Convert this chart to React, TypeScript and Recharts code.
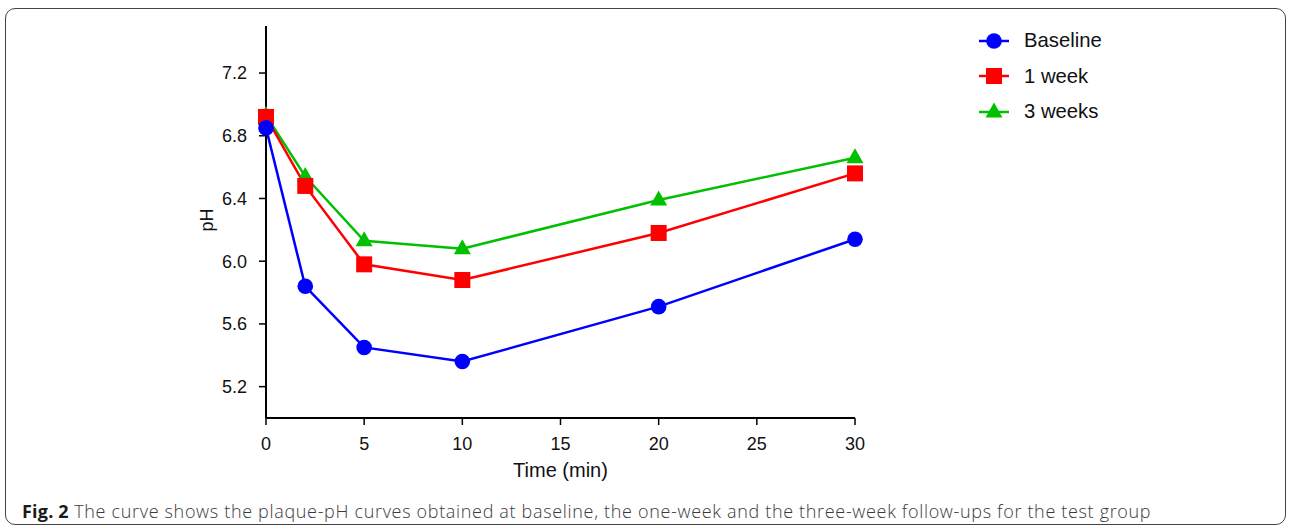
import React from 'react';
import { LineChart, Line, XAxis, YAxis, Legend, Label } from 'recharts';

const times = [0, 2, 5, 10, 20, 30];
const baseline = [6.85, 5.84, 5.45, 5.36, 5.71, 6.14];
const week1 = [6.92, 6.48, 5.98, 5.88, 6.18, 6.56];
const week3 = [6.93, 6.54, 6.13, 6.08, 6.39, 6.66];
const xTicks = [0, 5, 10, 15, 20, 25, 30];
const yTicks = [5.2, 5.6, 6.0, 6.4, 6.8, 7.2];
const seriesNames = ['Baseline', '1 week', '3 weeks'];
const seriesColors = ['#0000FF', '#FF0000', '#00C000'];
const seriesShapes = ['circle', 'square', 'triangle'];

const data = times.map((t, i) => ({ t, b: baseline[i], w1: week1[i], w3: week3[i] }));

const FONT = '"Liberation Sans", Arial, sans-serif';

function Marker({ shape, cx, cy, color }: { shape: string; cx: number; cy: number; color: string }) {
  if (shape === 'circle') return <circle cx={cx} cy={cy} r={7.8} fill={color} />;
  if (shape === 'square') return <rect x={cx - 8} y={cy - 8} width={16} height={16} fill={color} />;
  return <polygon points={`${cx},${cy - 9.5} ${cx - 8.5},${cy + 5.5} ${cx + 8.5},${cy + 5.5}`} fill={color} />;
}

const makeDot = (idx: number) => (props: any) => {
  const { cx, cy, index } = props;
  if (cx == null || cy == null) return <g key={`d-${idx}-${index}`} />;
  return <Marker key={`d-${idx}-${index}`} shape={seriesShapes[idx]} cx={cx} cy={cy} color={seriesColors[idx]} />;
};

const renderLegend = () => (
  <div>
    {seriesNames.map((name, i) => (
      <div key={name} style={{ display: 'flex', alignItems: 'center', height: 35.5 }}>
        <svg width={32} height={20} style={{ overflow: 'visible' }}>
          <line x1={1} y1={10} x2={31} y2={10} stroke={seriesColors[i]} strokeWidth={2.5} />
          <Marker shape={seriesShapes[i]} cx={16} cy={10} color={seriesColors[i]} />
        </svg>
        <span style={{ marginLeft: 14, fontFamily: FONT, fontSize: 20.3, color: '#111' }}>{name}</span>
      </div>
    ))}
  </div>
);

export default function App() {
  return (
    <div style={{ position: 'absolute', left: 0, top: 0, width: 1290, height: 529, background: '#fff' }}>
      <div
        style={{
          position: 'absolute', left: 5, top: 8, width: 1281, height: 517,
          border: '1.5px solid #444', borderRadius: 10, boxSizing: 'border-box',
        }}
      />
      <div style={{ position: 'absolute', left: 0, top: 0 }}>
        <LineChart width={1290} height={529} data={data} margin={{ top: 26, right: 435, bottom: 51, left: 186 }}>
          <XAxis
            dataKey="t" type="number" domain={[0, 30]} ticks={xTicks}
            axisLine={{ stroke: '#000', strokeWidth: 2 }} tickLine={{ stroke: '#000', strokeWidth: 1.5 }}
            tickSize={7} tickMargin={12} height={60}
            tick={{ fill: '#111', fontSize: 18, fontFamily: FONT }}
          >
            <Label
              content={(p: any) => {
                const vb = p.viewBox;
                return (
                  <text x={vb.x + vb.width / 2} y={vb.y + 59} textAnchor="middle" fontSize={20} fontFamily={FONT} fill="#111">
                    Time (min)
                  </text>
                );
              }}
            />
          </XAxis>
          <YAxis
            type="number" domain={[5, 7.5]} ticks={yTicks} width={80}
            tickFormatter={(v: number) => v.toFixed(1)}
            axisLine={{ stroke: '#000', strokeWidth: 2 }} tickLine={{ stroke: '#000', strokeWidth: 1.5 }}
            tickSize={7} tickMargin={12}
            tick={{ fill: '#111', fontSize: 18, fontFamily: FONT }}
          >
            <Label
              content={(p: any) => {
                const vb = p.viewBox;
                const x = vb.x + 27;
                const y = vb.y + vb.height / 2 - 2;
                return (
                  <text x={x} y={y} transform={`rotate(-90 ${x} ${y})`} textAnchor="middle" fontSize={18} fontFamily={FONT} fill="#111">
                    pH
                  </text>
                );
              }}
            />
          </YAxis>
          <Legend
            layout="vertical" align="center" verticalAlign="middle"
            content={renderLegend}
            wrapperStyle={{ left: 978, top: 23, width: 200, height: 110 }}
          />
          <Line dataKey="w3" name="3 weeks" stroke={seriesColors[2]} strokeWidth={2.5} dot={makeDot(2)} activeDot={false} isAnimationActive={false} />
          <Line dataKey="w1" name="1 week" stroke={seriesColors[1]} strokeWidth={2.5} dot={makeDot(1)} activeDot={false} isAnimationActive={false} />
          <Line dataKey="b" name="Baseline" stroke={seriesColors[0]} strokeWidth={2.5} dot={makeDot(0)} activeDot={false} isAnimationActive={false} />
        </LineChart>
      </div>
      <div
        style={{
          position: 'absolute', left: 22, top: 500, whiteSpace: 'nowrap',
          fontFamily: '"Open Sans", "Noto Sans", sans-serif', fontSize: 18, letterSpacing: 0.67,
          fontWeight: 300, color: '#3a3a3a', lineHeight: '22px',
        }}
      >
        <b style={{ color: '#1a1a1a', fontWeight: 700, letterSpacing: 0.2 }}>Fig. 2</b> The curve shows the plaque-pH curves obtained at baseline, the one-week and the three-week follow-ups for the test group
      </div>
    </div>
  );
}
